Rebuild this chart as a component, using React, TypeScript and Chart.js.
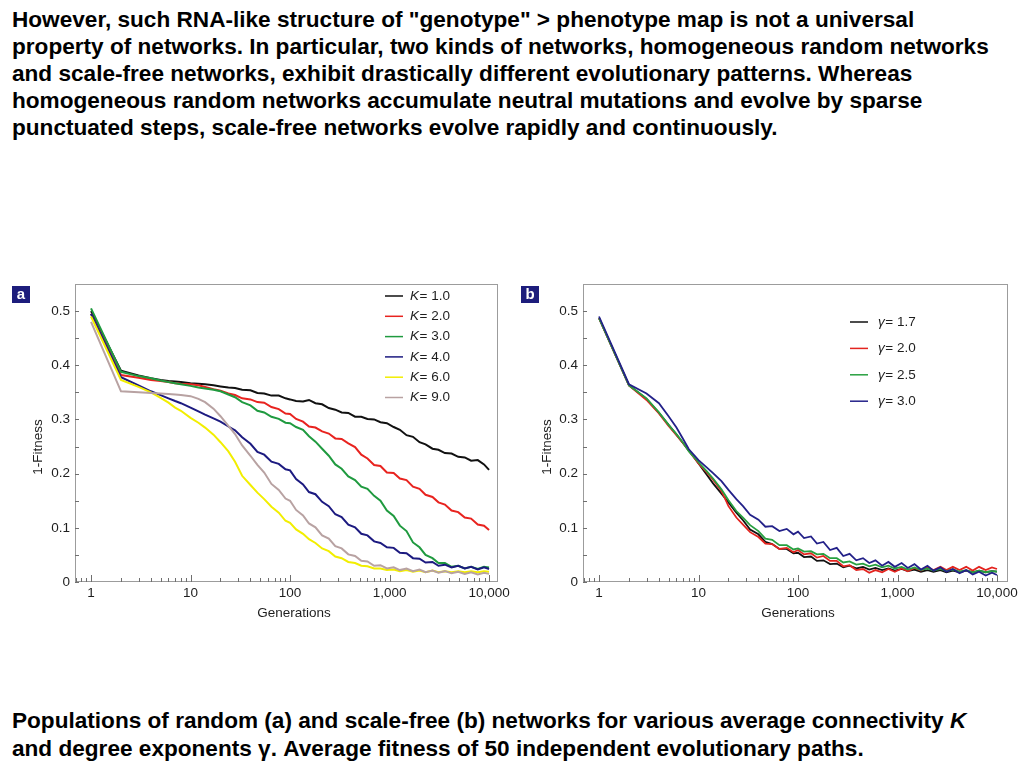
import React, { useEffect, useRef } from "react";
import { Chart, registerables } from "chart.js";

Chart.register(...registerables);

// ---------- data ----------
const GENERATIONS = [
  1, 2, 3, 4, 5, 6, 7, 8, 10, 12, 14, 17, 20, 24, 28, 33, 40, 47, 55, 65, 77, 90, 100, 115, 135, 155,
  180, 210, 245, 285, 330, 385, 450, 520, 600, 700, 810, 940, 1100, 1270, 1480, 1720, 2000, 2300,
  2700, 3100, 3600, 4200, 4900, 5700, 6600, 7700, 8900, 10000,
];

const K_LABELS = ["1.0", "2.0", "3.0", "4.0", "6.0", "9.0"];
const K_COLORS = ["#111111", "#e8231f", "#1f9a3f", "#1c1a80", "#f2ee00", "#b8a2a2"];

const K_1 = [
  0.5, 0.39, 0.381, 0.376, 0.373, 0.371, 0.37, 0.369, 0.367, 0.366, 0.365, 0.363, 0.361, 0.359, 0.358,
  0.355, 0.354, 0.349, 0.348, 0.344, 0.344, 0.339, 0.337, 0.334, 0.333, 0.336, 0.33, 0.328, 0.321,
  0.318, 0.313, 0.312, 0.305, 0.305, 0.301, 0.3, 0.295, 0.293, 0.286, 0.281, 0.271, 0.268, 0.258,
  0.254, 0.246, 0.244, 0.238, 0.237, 0.231, 0.23, 0.224, 0.225, 0.217, 0.207,
];
const K_2 = [
  0.495, 0.382, 0.377, 0.373, 0.371, 0.369, 0.367, 0.366, 0.365, 0.363, 0.36, 0.356, 0.353, 0.348,
  0.345, 0.339, 0.337, 0.332, 0.331, 0.323, 0.319, 0.311, 0.31, 0.301, 0.296, 0.287, 0.285, 0.278,
  0.274, 0.265, 0.264, 0.256, 0.249, 0.235, 0.228, 0.216, 0.214, 0.202, 0.201, 0.191, 0.188, 0.176,
  0.172, 0.161, 0.157, 0.147, 0.143, 0.132, 0.129, 0.119, 0.117, 0.106, 0.104, 0.096,
];
const K_3 = [
  0.505, 0.388, 0.38, 0.376, 0.372, 0.369, 0.367, 0.365, 0.362, 0.359, 0.357, 0.355, 0.352, 0.346,
  0.341, 0.332, 0.326, 0.316, 0.313, 0.305, 0.301, 0.294, 0.293, 0.286, 0.281, 0.269, 0.259, 0.246,
  0.233, 0.217, 0.209, 0.195, 0.188, 0.176, 0.172, 0.159, 0.15, 0.132, 0.122, 0.104, 0.094, 0.073,
  0.064, 0.05, 0.044, 0.035, 0.035, 0.028, 0.03, 0.025, 0.028, 0.024, 0.028, 0.027,
];
const K_4 = [
  0.495, 0.378, 0.363, 0.352, 0.345, 0.339, 0.334, 0.33, 0.322, 0.315, 0.309, 0.302, 0.296, 0.287,
  0.28, 0.267, 0.255, 0.24, 0.235, 0.222, 0.218, 0.208, 0.206, 0.19, 0.18, 0.166, 0.162, 0.148, 0.14,
  0.125, 0.12, 0.106, 0.101, 0.089, 0.086, 0.075, 0.072, 0.064, 0.063, 0.054, 0.053, 0.044, 0.043,
  0.036, 0.037, 0.03, 0.032, 0.027, 0.03, 0.025, 0.028, 0.023, 0.027, 0.024,
];
const K_6 = [
  0.49, 0.373, 0.36, 0.35, 0.34, 0.331, 0.322, 0.316, 0.303, 0.294, 0.285, 0.272, 0.258, 0.241, 0.222,
  0.196, 0.179, 0.165, 0.153, 0.139, 0.128, 0.113, 0.109, 0.097, 0.089, 0.079, 0.072, 0.062, 0.057,
  0.047, 0.044, 0.037, 0.035, 0.03, 0.029, 0.025, 0.025, 0.022, 0.023, 0.02, 0.022, 0.019, 0.021,
  0.018, 0.021, 0.018, 0.02, 0.018, 0.02, 0.018, 0.02, 0.018, 0.02, 0.019,
];
const K_9 = [
  0.48, 0.352, 0.35, 0.349, 0.348, 0.347, 0.346, 0.345, 0.343, 0.338, 0.332, 0.32, 0.306, 0.288,
  0.273, 0.252, 0.233, 0.216, 0.202, 0.181, 0.17, 0.154, 0.15, 0.133, 0.123, 0.108, 0.101, 0.086,
  0.08, 0.066, 0.062, 0.051, 0.048, 0.039, 0.038, 0.03, 0.031, 0.025, 0.027, 0.022, 0.025, 0.02,
  0.023, 0.018, 0.021, 0.017, 0.02, 0.016, 0.019, 0.015, 0.018, 0.014, 0.017, 0.015,
];

const GAMMA_LABELS = ["1.7", "2.0", "2.5", "3.0"];
const GAMMA_COLORS = ["#111111", "#e3241f", "#27a040", "#232189"];

const GAMMA_17 = [
  0.487, 0.363, 0.338, 0.312, 0.29, 0.272, 0.256, 0.243, 0.219, 0.199, 0.182, 0.163, 0.147, 0.128,
  0.114, 0.097, 0.088, 0.074, 0.07, 0.061, 0.061, 0.053, 0.054, 0.046, 0.047, 0.039, 0.04, 0.033,
  0.034, 0.027, 0.03, 0.025, 0.028, 0.023, 0.026, 0.022, 0.025, 0.021, 0.024, 0.02, 0.023, 0.019,
  0.022, 0.019, 0.022, 0.018, 0.021, 0.018, 0.021, 0.018, 0.021, 0.018, 0.02, 0.019,
];
const GAMMA_20 = [
  0.487, 0.363, 0.336, 0.311, 0.288, 0.271, 0.256, 0.242, 0.219, 0.203, 0.189, 0.168, 0.14, 0.119,
  0.106, 0.092, 0.083, 0.071, 0.07, 0.061, 0.063, 0.055, 0.059, 0.051, 0.053, 0.045, 0.048, 0.039,
  0.039, 0.029, 0.031, 0.022, 0.024, 0.017, 0.022, 0.018, 0.024, 0.019, 0.025, 0.02, 0.026, 0.021,
  0.027, 0.022, 0.028, 0.022, 0.028, 0.022, 0.028, 0.021, 0.028, 0.022, 0.027, 0.024,
];
const GAMMA_25 = [
  0.487, 0.363, 0.339, 0.313, 0.29, 0.273, 0.257, 0.241, 0.221, 0.205, 0.191, 0.171, 0.151, 0.131,
  0.119, 0.105, 0.094, 0.08, 0.078, 0.068, 0.068, 0.06, 0.062, 0.056, 0.057, 0.051, 0.052, 0.044,
  0.044, 0.036, 0.038, 0.032, 0.034, 0.029, 0.032, 0.027, 0.03, 0.025, 0.028, 0.023, 0.027, 0.022,
  0.025, 0.021, 0.024, 0.02, 0.023, 0.019, 0.022, 0.018, 0.021, 0.018, 0.02, 0.019,
];
const GAMMA_30 = [
  0.49, 0.365, 0.348, 0.33, 0.306, 0.285, 0.264, 0.245, 0.225, 0.212, 0.201, 0.186, 0.17, 0.153,
  0.14, 0.124, 0.115, 0.102, 0.103, 0.094, 0.098, 0.088, 0.093, 0.081, 0.084, 0.071, 0.074, 0.059,
  0.063, 0.048, 0.052, 0.04, 0.044, 0.035, 0.04, 0.03, 0.037, 0.028, 0.035, 0.026, 0.033, 0.023,
  0.03, 0.021, 0.027, 0.019, 0.024, 0.016, 0.022, 0.014, 0.019, 0.012, 0.017, 0.013,
];

const X_TICKS = [1, 10, 100, 1000, 10000];
const X_TICK_LABELS = ["1", "10", "100", "1,000", "10,000"];
const Y_TICKS = [0, 0.1, 0.2, 0.3, 0.4, 0.5];
const Y_TICK_LABELS = ["0", "0.1", "0.2", "0.3", "0.4", "0.5"];
const Y_MINOR_TICKS = [0, 0.05, 0.1, 0.15, 0.2, 0.25, 0.3, 0.35, 0.4, 0.45, 0.5];

// ---------- styling ----------
const FONT = "Arial, 'Liberation Sans', Helvetica, sans-serif";
const TEXT_COLOR = "#1e1e1e";

const panelPlugin = {
  id: "panelDecor",
  beforeDatasetsDraw(chart: any, _args: any, opts: any) {
    const { ctx, chartArea: ca, scales } = chart;
    const xs = scales.x;
    const ys = scales.y;
    ctx.save();
    ctx.strokeStyle = "#9c9c9c";
    ctx.lineWidth = 1;
    ctx.strokeRect(ca.left + 0.5, ca.top + 0.5, ca.right - ca.left - 1, ca.bottom - ca.top - 1);
    ctx.strokeStyle = "#6f6f6f";
    for (const v of Y_MINOR_TICKS) {
      const py = Math.round(ys.getPixelForValue(v)) + 0.5;
      ctx.beginPath();
      ctx.moveTo(ca.left, py);
      ctx.lineTo(ca.left + 4, py);
      ctx.stroke();
    }
    for (const d of [0.1, 1, 10, 100, 1000, 10000]) {
      for (let m = 1; m <= 9; m++) {
        const v = d * m;
        if (v < xs.min || v > xs.max) continue;
        const px = Math.round(xs.getPixelForValue(v)) + 0.5;
        const len = m === 1 ? 7 : 4;
        ctx.beginPath();
        ctx.moveTo(px, ca.bottom);
        ctx.lineTo(px, ca.bottom - len);
        ctx.stroke();
      }
    }
    ctx.fillStyle = TEXT_COLOR;
    ctx.font = `13.5px ${FONT}`;
    ctx.textAlign = "center";
    ctx.textBaseline = "middle";
    ctx.fillText(opts.xTitle, opts.xTitleX, opts.xTitleY);
    ctx.translate(opts.yTitleX, opts.yTitleY);
    ctx.rotate(-Math.PI / 2);
    ctx.fillText(opts.yTitle, 0, 0);
    ctx.restore();
  },
  afterDraw(chart: any, _args: any, opts: any) {
    const { ctx } = chart;
    ctx.save();
    ctx.textBaseline = "middle";
    ctx.textAlign = "left";
    chart.data.datasets.forEach((ds: any, i: number) => {
      const y = opts.legendY + i * opts.legendStep;
      ctx.strokeStyle = ds.borderColor;
      ctx.lineWidth = 1.5;
      ctx.beginPath();
      ctx.moveTo(opts.legendX, y);
      ctx.lineTo(opts.legendX + 18, y);
      ctx.stroke();
      ctx.fillStyle = TEXT_COLOR;
      ctx.font = `italic 13.5px ${FONT}`;
      const tx = opts.legendX + opts.legendTextGap;
      ctx.fillText(opts.symbol, tx, y);
      const w = ctx.measureText(opts.symbol).width;
      ctx.font = `13.5px ${FONT}`;
      ctx.fillText("= " + ds.label, tx + w + 0.5, y);
    });
    ctx.restore();
  },
};

type PanelProps = {
  left: number;
  width: number;
  series: number[][];
  labels: string[];
  colors: string[];
  xMax: number;
  yAxisWidth: number;
  rightPad: number;
  decor: any;
  lineWidth: number;
};

function Panel(props: PanelProps) {
  const ref = useRef<HTMLCanvasElement | null>(null);
  useEffect(() => {
    if (!ref.current) return;
    const n = props.series.length;
    const datasets = props.series.map((vals, i) => ({
      label: props.labels[i],
      data: GENERATIONS.map((g, j) => ({ x: g, y: vals[j] })),
      borderColor: props.colors[i],
      backgroundColor: props.colors[i],
      borderWidth: props.lineWidth,
      pointRadius: 0,
      tension: 0,
      fill: false,
      order: n - i,
    }));
    const chart = new Chart(ref.current, {
      type: "line",
      data: { datasets },
      plugins: [panelPlugin as any],
      options: {
        animation: false,
        responsive: false,
        maintainAspectRatio: false,
        events: [],
        layout: { padding: { left: 0, top: 4, right: props.rightPad, bottom: 0 } },
        plugins: {
          legend: { display: false },
          tooltip: { enabled: false },
          panelDecor: props.decor,
        } as any,
        scales: {
          x: {
            type: "logarithmic",
            min: 0.69,
            max: props.xMax,
            afterBuildTicks: (s: any) => {
              s.ticks = X_TICKS.map((v) => ({ value: v }));
            },
            afterFit: (s: any) => {
              s.height = 43;
              s.paddingLeft = 0;
              s.paddingRight = 0;
            },
            ticks: {
              autoSkip: false,
              maxRotation: 0,
              padding: 3,
              color: TEXT_COLOR,
              font: { family: FONT, size: 13.5 },
              callback: (v: any) => {
                const i = X_TICKS.indexOf(Number(v));
                return i >= 0 ? X_TICK_LABELS[i] : "";
              },
            },
            grid: { display: false, drawTicks: false },
            border: { display: false },
          },
          y: {
            type: "linear",
            min: 0,
            max: 0.55,
            afterBuildTicks: (s: any) => {
              s.ticks = Y_TICKS.map((v) => ({ value: v }));
            },
            afterFit: (s: any) => {
              s.width = props.yAxisWidth;
              s.paddingTop = 0;
              s.paddingBottom = 0;
            },
            ticks: {
              padding: 5,
              color: TEXT_COLOR,
              font: { family: FONT, size: 13.5 },
              callback: (v: any) => {
                const i = Y_TICKS.findIndex((t) => Math.abs(t - Number(v)) < 1e-9);
                return i >= 0 ? Y_TICK_LABELS[i] : "";
              },
            },
            grid: { display: false, drawTicks: false },
            border: { display: false },
          },
        },
      } as any,
    });
    return () => chart.destroy();
  }, []);
  return (
    <canvas
      ref={ref}
      width={props.width}
      height={345}
      style={{ position: "absolute", left: props.left, top: 280, width: props.width, height: 345 }}
    />
  );
}

const labelBox = (left: number, letter: string) => (
  <div
    style={{
      position: "absolute",
      left,
      top: 286,
      width: 18,
      height: 17,
      background: "#1d1d7c",
      color: "#ffffff",
      font: `bold 15px ${FONT}`,
      lineHeight: "16px",
      textAlign: "center",
    }}
  >
    {letter}
  </div>
);

export default function App() {
  const textStyle: React.CSSProperties = {
    position: "absolute",
    left: 12,
    font: `bold 22.6px ${FONT}`,
    lineHeight: "27px",
    color: "#000000",
    whiteSpace: "nowrap",
  };
  return (
    <div
      style={{
        position: "absolute",
        left: 0,
        top: 0,
        width: 1024,
        height: 768,
        background: "#ffffff",
        overflow: "hidden",
        fontFamily: FONT,
      }}
    >
      <div style={{ ...textStyle, top: 6 }}>
        However, such RNA-like structure of "genotype" &gt; phenotype map is not a universal
        <br />
        property of networks. In particular, two kinds of networks, homogeneous random networks
        <br />
        and scale-free networks, exhibit drastically different evolutionary patterns. Whereas
        <br />
        homogeneous random networks accumulate neutral mutations and evolve by sparse
        <br />
        punctuated steps, scale-free networks evolve rapidly and continuously.
      </div>

      <Panel
        left={0}
        width={510}
        series={[K_1, K_2, K_3, K_4, K_6, K_9]}
        labels={K_LABELS}
        colors={K_COLORS}
        xMax={12300}
        yAxisWidth={75}
        rightPad={12}
        lineWidth={2}
        decor={{
          xTitle: "Generations",
          xTitleX: 294,
          xTitleY: 333,
          yTitle: "1-Fitness",
          yTitleX: 38,
          yTitleY: 167,
          symbol: "K",
          legendX: 385,
          legendY: 16,
          legendStep: 20.3,
          legendTextGap: 25,
        }}
      />
      <Panel
        left={510}
        width={514}
        series={[GAMMA_17, GAMMA_20, GAMMA_25, GAMMA_30]}
        labels={GAMMA_LABELS}
        colors={GAMMA_COLORS}
        xMax={12900}
        yAxisWidth={73}
        rightPad={16}
        lineWidth={1.8}
        decor={{
          xTitle: "Generations",
          xTitleX: 288,
          xTitleY: 333,
          yTitle: "1-Fitness",
          yTitleX: 37,
          yTitleY: 167,
          symbol: "\u03B3",
          legendX: 340,
          legendY: 42,
          legendStep: 26.4,
          legendTextGap: 28,
        }}
      />
      {labelBox(12, "a")}
      {labelBox(521, "b")}

      <div style={{ ...textStyle, top: 707, lineHeight: "28px" }}>
        Populations of random (a) and scale-free (b) networks for various average connectivity <i>K</i>
        <br />
        and degree exponents &gamma;. Average fitness of 50 independent evolutionary paths.
      </div>
    </div>
  );
}
